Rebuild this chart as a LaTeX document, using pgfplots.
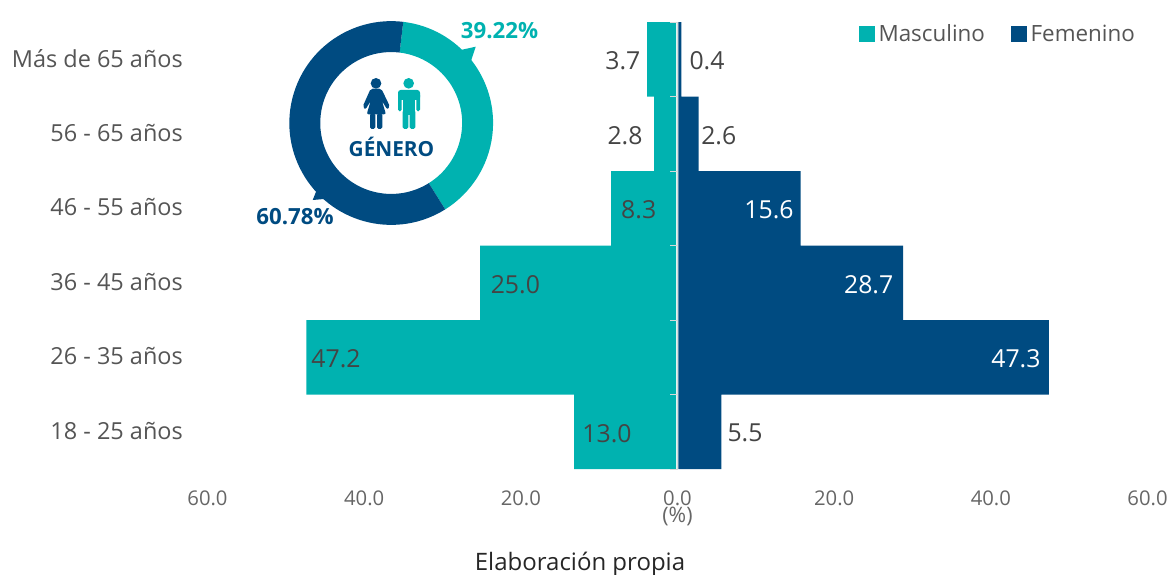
\documentclass[border=0pt]{standalone}
\usepackage{pgfplots}
\pgfplotsset{compat=1.18}
\usepackage{fontspec}
\setmainfont{Open Sans}
\definecolor{teal1}{HTML}{00B2B0}
\definecolor{navy1}{HTML}{004B81}
\definecolor{tick1}{HTML}{666666}
\definecolor{lab1}{HTML}{555555}
\definecolor{val1}{HTML}{444444}
\newcommand{\fs}[1]{\fontsize{#1}{#1}\selectfont}
\def\pctM{39.22}
\def\pctF{60.78}
\begin{document}
\begin{tikzpicture}[x=0.75pt,y=-0.75pt]
\path[use as bounding box] (0,0) rectangle (1169,574);
\begin{axis}[
  at={(155.625pt,-351.75pt)},anchor=south west,
  scale only axis,width=705pt,height=335.25pt,
  xmin=-60,xmax=60,ymin=-0.5,ymax=5.5,
  axis line style={draw=none},
  clip=false,
  major tick length=0pt,
  xtick={-60,-40,-20,0,20,40,60},
  xticklabels={60.0,40.0,20.0,0.0,20.0,40.0,60.0},
  ytick={0,1,2,3,4,5},
  yticklabels={18 - 25 años,26 - 35 años,36 - 45 años,46 - 55 años,56 - 65 años,Más de 65 años},
  /pgf/number format/assume math mode=true,
  xticklabel style={font=\fs{15.2}, text=tick1, yshift=-12.75pt},
  yticklabel style={font=\fs{17.6}, text=lab1, xshift=-15pt, yshift=0.6pt},
  legend columns=2,
  legend style={draw=none,fill=none,at={(1,1)},anchor=north east,font=\fs{16.8},text=lab1,
    xshift=-4.25pt,yshift=2.3pt,
    /tikz/every odd column/.append style={column sep=0.75pt},
    /tikz/every even column/.append style={column sep=17.75pt}},
  legend image code/.code={\fill[#1] (0pt,-5.8pt) rectangle (11.8pt,5.8pt);},
]
\addplot[xbar,bar width=1,bar shift=0pt,fill=teal1,draw=none,xshift=-1.1pt] coordinates {(-13.0,0) (-47.2,1) (-25.0,2) (-8.3,3) (-2.8,4) (-3.7,5)};
\addlegendentry{Masculino}
\addplot[xbar,bar width=1,bar shift=0pt,fill=navy1,draw=none,xshift=0.6pt] coordinates {(5.5,0) (47.3,1) (28.7,2) (15.6,3) (2.6,4) (0.4,5)};
\addlegendentry{Femenino}
\draw[black!15,line width=0.6pt] (axis cs:0,-0.5)--(axis cs:0,5.5);
\pgfplotsinvokeforeach{-0.5,0.5,1.5,2.5,3.5,4.5,5.5}{
  \draw[black!15,line width=0.6pt] (axis cs:0,#1)--(axis cs:-1.0,#1);
}
\tikzset{vl/.style={font=\fs{18.6},text=val1,inner sep=0pt,yshift=-1.1pt}}
\node[vl] at (axis cs:-6.97,5) {3.7};
\node[vl] at (axis cs:3.77,5) {0.4};
\node[vl] at (axis cs:-6.70,4) {2.8};
\node[vl] at (axis cs:5.27,4) {2.6};
\node[vl] at (axis cs:-4.95,3) {8.3};
\node[vl,text=white] at (axis cs:11.68,3) {15.6};
\node[vl] at (axis cs:-20.7,2) {25.0};
\node[vl,text=white] at (axis cs:24.4,2) {28.7};
\node[vl] at (axis cs:-43.6,1) {47.2};
\node[vl,text=white] at (axis cs:43.2,1) {47.3};
\node[vl] at (axis cs:-9.0,0) {13.0};
\node[vl] at (axis cs:8.62,0) {5.5};
\end{axis}
\node[font=\fs{16},text=tick1,inner sep=0pt] at (677.5,516) {(\%)};
\node[font=\fs{18},text=black!85,inner sep=0pt] at (580,564) {Elaboración propia};
% donut
\begin{scope}[shift={(391.2,123)},x=0.75pt,y=0.75pt]
\pgfmathsetmacro{\st}{83.2}
\pgfmathsetmacro{\en}{\st-3.6*\pctM}
\pgfmathsetmacro{\enb}{\en-3.6*\pctF}
\fill[teal1] (\st:76.4pt) arc[start angle=\st,end angle=\en,radius=76.4pt]
  -- (\en:53.2pt) arc[start angle=\en,end angle=\st,radius=53.2pt] -- cycle;
\fill[navy1] (\en:76.4pt) arc[start angle=\en,end angle=\enb,radius=76.4pt]
  -- (\enb:53.2pt) arc[start angle=\enb,end angle=\en,radius=53.2pt] -- cycle;
\end{scope}
\fill[teal1] (460.7,50) -- (475.7,46.7) -- (471,61) -- cycle;
\fill[navy1] (316.7,190) -- (312.7,200) -- (324,199) -- cycle;
\node[font=\fs{16.7}\bfseries,text=teal1,inner sep=0pt] at (499.5,30.5) {39.22\%};
\node[font=\fs{16.7}\bfseries,text=navy1,inner sep=0pt] at (295,217) {60.78\%};
\node[font=\fs{15.6}\bfseries,text=navy1,inner sep=0pt] at (391.5,146.5) {GÉNERO};
% icons
\begin{scope}[shift={(250,0)},x=0.25pt,y=-0.25pt]
\fill[navy1] (378,250) circle[radius=4pt];
\fill[navy1,rounded corners=1.5pt] (362,266) -- (338,320) -- (346,329) -- (362,303) -- (350,343) -- (408,343) -- (396,303) -- (412,329) -- (420,320) -- (394,266) -- cycle;
\fill[navy1,rounded corners=1.2pt] (360,340) rectangle (376,387);
\fill[navy1,rounded corners=1.2pt] (381,340) rectangle (397,387);
\fill[teal1] (476,250) circle[radius=4pt];
\fill[teal1,rounded corners=2pt] (444,270) rectangle (510,300);
\fill[teal1,rounded corners=1.2pt] (444,280) rectangle (455,334);
\fill[teal1,rounded corners=1.2pt] (499,280) rectangle (510,334);
\fill[teal1] (458,280) rectangle (496,345);
\fill[teal1,rounded corners=1.2pt] (458,330) rectangle (475,387);
\fill[teal1,rounded corners=1.2pt] (479,330) rectangle (496,387);
\end{scope}
\end{tikzpicture}
\end{document}
